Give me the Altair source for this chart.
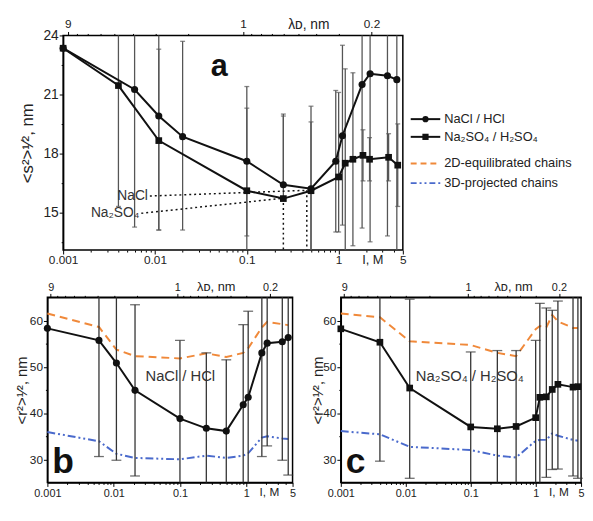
import altair as alt
import pandas as pd

FONT = "Liberation Sans"
INK = "#111111"
ERR = "#555555"
ERR_BC = "#333333"
ORANGE = "#f0893a"
BLUE = "#4a6acc"

# ---------------- panel a : <s^2>^1/2 ----------------
a_nacl_I = [0.001, 0.006, 0.011, 0.02, 0.1, 0.25, 0.5, 0.93, 1.1, 1.8, 2.2, 3.4, 4.3]
a_nacl_s = [23.35, 21.25, 19.9, 18.85, 17.6, 16.4, 16.2, 17.6, 18.9, 21.5, 22.05, 21.95, 21.75]
a_nacl_lo = [None, 14.25, 14.1, 14.1, 13.8, None, 11.9, 14.0, 14.35, 14.2, 13.5, 13.8, 11.9]
a_nacl_hi = [None, 28.25, 25.7, 23.7, 21.4, 20.0, 20.4, 21.2, 23.5, 28.8, 30.6, 30.1, 31.6]

a_so4_I = [0.001, 0.004, 0.011, 0.1, 0.25, 0.5, 1.0, 1.18, 1.43, 1.84, 2.17, 3.5, 4.4]
a_so4_s = [23.35, 21.45, 18.65, 16.1, 15.7, 16.1, 16.8, 17.5, 17.7, 17.9, 17.7, 17.8, 17.4]
a_so4_lo = [None, 15.3, 14.1, 11.9, None, 11.9, 14.0, 13.0, 13.3, 16.6, 16.6, 16.6, 15.3]
a_so4_hi = [None, 27.6, 23.3, 20.3, 19.9, 19.6, 21.1, 22.3, 22.1, 19.2, 18.8, 19.0, 19.5]

a_note_text = ["NaCl", "Na₂SO₄"]
a_note_x = [0.0088, 0.0071]
a_note_y = [15.83, 14.95]
a_note_minI = [0.45, 0.25]
a_note_minS = [16.12, 15.72]

# ---------------- panel b : NaCl / HCl ----------------
b_I = [0.001, 0.006, 0.011, 0.021, 0.1, 0.25, 0.5, 0.9, 1.07, 1.72, 2.07, 3.5, 4.3]
b_r = [58.3, 55.7, 50.8, 44.9, 38.8, 36.7, 36.1, 41.8, 43.4, 53.0, 55.1, 55.4, 56.3]
b_lo = [None, 30.6, 29.8, 26.4, 21.9, 20.4, 20.7, 24.5, 24.8, 30.6, 32.9, 29.8, 26.6]
b_hi = [None, 80.8, 71.8, 63.4, 55.7, 53.0, 51.5, 59.1, 62.0, 75.4, 77.3, 81.0, 86.0]
b_2d = [61.5, 58.6, 53.7, 52.3, 51.8, 52.9, 52.1, 53.0, 54.0, 58.5, 59.7, 59.2, 59.0]
b_3d = [35.9, 33.9, 31.2, 30.3, 30.0, 30.8, 30.3, 30.8, 31.3, 34.7, 35.0, 34.5, 34.4]

# ---------------- panel c : Na2SO4 / H2SO4 ----------------
c_I = [0.001, 0.004, 0.0115, 0.1, 0.257, 0.5, 1.0, 1.16, 1.46, 1.8, 2.2, 3.76, 4.47]
c_r = [58.2, 55.3, 45.4, 37.0, 36.6, 37.1, 39.0, 43.4, 43.5, 45.1, 46.2, 45.6, 45.7]
c_lo = [None, 29.6, 25.9, 20.8, 19.7, 20.7, 22.3, 23.1, 26.1, 27.8, 27.9, 26.4, 25.9]
c_hi = [None, 81.0, 64.6, 53.2, 53.5, 53.5, 55.7, 63.7, 62.7, 62.2, 64.2, 65.5, 65.5]
c_2d = [61.5, 60.7, 55.5, 54.7, 53.0, 52.3, 58.1, 58.8, 58.5, 61.2, 59.8, 58.4, 58.4]
c_3d = [36.1, 35.4, 32.7, 32.0, 30.8, 30.4, 34.0, 34.2, 34.2, 35.6, 35.1, 34.2, 34.0]

legend_labels = ["NaCl / HCl", "Na₂SO₄ / H₂SO₄", "2D-equilibrated chains", "3D-projected chains"]

# ---------------- axes ----------------
I_DOMAIN = [0.001, 5]
A_YDOM = [13.08, 24]
BC_YDOM = [25, 65]
X_MAJOR = [0.001, 0.01, 0.1, 1, 5]
X_MINOR = [0.002, 0.003, 0.004, 0.005, 0.006, 0.007, 0.008, 0.009,
           0.02, 0.03, 0.04, 0.05, 0.06, 0.07, 0.08, 0.09,
           0.2, 0.3, 0.4, 0.5, 0.6, 0.7, 0.8, 0.9, 2, 3, 4]
L_MAJOR = [9, 1, 0.2]
L_MINOR = [8, 7, 6, 5, 4, 3, 2, 0.9, 0.8, 0.7, 0.6, 0.5, 0.4, 0.3]
LAMBDA_K = 0.302  # Debye length (nm) = K / sqrt(I)

A_SHIFT = 16  # panel a's frame starts this many px right of the shared column origin

A_W, A_H = 345, 218
B_W, B_H = 249, 188
C_W, C_H = 244, 188


def make_panel(width, height, ydom, yvals, ylabel_test, ytitle, ysize, ytitle_x, ytitle_size,
               series, curves, texts, extra, xsize, xtitle_x, lam_title_x, cap, errc, shift=0):
    decades = 3.69897
    lo_I = 10 ** (-3 - decades * shift / (width - shift)) if shift else I_DOMAIN[0]
    xdom = [lo_I, I_DOMAIN[1]]
    lamdom = [LAMBDA_K / xdom[1] ** 0.5, LAMBDA_K / xdom[0] ** 0.5]
    framed = shift == 0
    xs = alt.Scale(type="log", domain=xdom, nice=False)
    ys = alt.Scale(domain=ydom, nice=False, zero=False)
    xax = alt.Axis(
        values=X_MAJOR + X_MINOR, format="~g", domain=framed,
        labelExpr="indexof(['0.001','0.01','0.1','1','5'], datum.label) >= 0 ? datum.label : ''",
        tickSize={"condition": {"test": "indexof([0.001, 0.01, 0.1, 1, 5], datum.value) >= 0", "value": 4}, "value": 2},
        labelFontSize=xsize, labelOverlap=False, labelFlush=False, labelPadding=1,
        title="I, M", titleX=xtitle_x + shift, titleY=4, titleBaseline="top", titleAlign="center",
        titleAngle=0, titleFontSize=xsize + 1)
    yax = alt.Axis(values=yvals, labelExpr=f"({ylabel_test}) ? datum.label : ''", offset=-shift,
                   tickSize={"condition": {"test": ylabel_test, "value": 4}, "value": 2},
                   labelFontSize=ysize, labelPadding=1, title=ytitle, titleFontSize=ytitle_size,
                   titleX=ytitle_x, titleY=height / 2, titleAlign="center", titleBaseline="middle",
                   titleAngle=270)

    def X(f):
        return alt.X(f + ":Q", scale=xs, axis=xax)

    def Y(f):
        return alt.Y(f + ":Q", scale=ys, axis=yax)

    layers = []
    if not framed:
        fr = pd.DataFrame({"x": [I_DOMAIN[0]], "x2": [I_DOMAIN[1]], "y": [ydom[0]], "y2": [ydom[1]]})
        layers.append(alt.Chart(fr).mark_rect(filled=False, stroke="black", strokeWidth=1.5)
                      .encode(x=X("x"), x2="x2:Q", y=Y("y"), y2="y2:Q"))
    for I, vals, color, dash in curves:
        df = pd.DataFrame({"I": I, "v": vals})
        layers.append(alt.Chart(df).mark_line(color=color, strokeWidth=2, strokeDash=dash)
                      .encode(x=X("I"), y=Y("v")))
    for I, vals, lo, hi, shape in series:
        rows = []
        for i, v, l, h in zip(I, vals, lo, hi):
            if h is None:
                continue
            rows.append({"I": i, "lo": v if l is None else l, "hi": h, "locap": l})
        df = pd.DataFrame(rows)
        base = alt.Chart(df).transform_calculate(
            loc=f"max(datum.lo, {ydom[0]})", hic=f"min(datum.hi, {ydom[1]})")
        layers.append(base.mark_rule(color=errc, strokeWidth=1.3)
                      .encode(x=X("I"), y=Y("loc"), y2="hic:Q"))
        layers.append(base.transform_filter(f"datum.hi <= {ydom[1]}")
                      .mark_tick(orient="horizontal", size=cap, thickness=1.3, color=errc)
                      .encode(x=X("I"), y=Y("hi")))
        layers.append(base.transform_filter(f"isValid(datum.locap) && datum.locap >= {ydom[0]}")
                      .mark_tick(orient="horizontal", size=cap, thickness=1.3, color=errc)
                      .encode(x=X("I"), y=Y("locap")))
    layers += [e(X, Y) for e in extra]
    for I, vals, lo, hi, shape in series:
        df = pd.DataFrame({"I": I, "v": vals})
        layers.append(alt.Chart(df).mark_line(color=INK, strokeWidth=2)
                      .encode(x=X("I"), y=Y("v")))
        layers.append(alt.Chart(df).mark_point(filled=True, shape=shape, size=52 if shape == "circle" else 46,
                                               color=INK, opacity=1)
                      .encode(x=X("I"), y=Y("v")))
    layers += texts

    top = alt.Chart(pd.DataFrame({"lam": lamdom})).mark_point(opacity=0, size=1).encode(
        x=alt.X("lam:Q", scale=alt.Scale(type="log", domain=lamdom, reverse=True, nice=False),
                axis=alt.Axis(orient="top", values=L_MAJOR + L_MINOR, format="~g", domain=framed,
                              labelExpr="(datum.value == 9 || datum.value == 1 || datum.value == 0.2) ? datum.label : ''",
                              tickSize={"condition": {"test": "datum.value == 9 || datum.value == 1 || datum.value == 0.2",
                                                      "value": 4}, "value": 2},
                              labelFontSize=xsize, labelOverlap=False, labelFlush=False, labelPadding=1,
                              title="λᴅ, nm", titleX=lam_title_x + shift, titleY=-4, titleBaseline="bottom",
                              titleAlign="center", titleAngle=0, titleFontSize=xsize + 2)),
        y=alt.value(0))
    props = dict(width=width, height=height)
    if not framed:
        props["view"] = alt.ViewBackground(stroke="transparent")
    return alt.layer(alt.layer(*layers), top).resolve_scale(x="independent").properties(**props)


def txt(s, x, y, size, weight="normal", align="left", baseline="alphabetic", color=INK):
    return alt.Chart(pd.DataFrame({"t": [s]})).mark_text(
        align=align, baseline=baseline, fontSize=size, fontWeight=weight, font=FONT, color=color
    ).encode(text="t:N", x=alt.value(x), y=alt.value(y))


def a_pointers(X, Y):
    df = pd.DataFrame({"x": a_note_x, "y": a_note_y, "x2": a_note_minI, "y2": a_note_minS})
    return alt.Chart(df).mark_rule(color=INK, strokeWidth=1.5, strokeDash=[2, 3]).encode(
        x=X("x"), y=Y("y"), x2="x2:Q", y2="y2:Q")


def a_drops(X, Y):
    df = pd.DataFrame({"x": a_note_minI, "y": a_note_minS, "y2": [A_YDOM[0], A_YDOM[0]]})
    return alt.Chart(df).mark_rule(color=INK, strokeWidth=1.5, strokeDash=[2, 3]).encode(
        x=X("x"), y=Y("y"), y2="y2:Q")


def a_labels(X, Y):
    df = pd.DataFrame({"x": a_note_x, "y": a_note_y, "t": a_note_text})
    return alt.Chart(df).mark_text(align="right", baseline="middle", dx=-2, fontSize=14, font=FONT,
                                   color="#333333").encode(x=X("x"), y=Y("y"), text="t:N")


def legend_rows(shift):
    rows_y = [85, 103, 130, 150]
    items = []
    styles = [(INK, None, "circle"), (INK, None, "square"), (ORANGE, [6, 4], None), (BLUE, [6, 3, 2, 3, 2, 3], None)]
    for (color, dash, shape), lab, ry in zip(styles, legend_labels, rows_y):
        one = pd.DataFrame({"k": [0]})
        kw = {"color": color, "strokeWidth": 2}
        if dash:
            kw["strokeDash"] = dash
        items.append(alt.Chart(one).mark_rule(**kw).encode(
            x=alt.value(353 + shift), x2=alt.value(383 + shift), y=alt.value(ry)))
        if shape:
            items.append(alt.Chart(one).mark_point(filled=True, shape=shape, size=40, color=INK, opacity=1)
                         .encode(x=alt.value(368 + shift), y=alt.value(ry)))
        items.append(txt(lab, 387 + shift, ry, 13, baseline="middle", color="#222222"))
    return items


panel_a = make_panel(
    A_W + A_SHIFT, A_H, A_YDOM, [15, 18, 21, 24, 13.5, 16.5, 19.5, 22.5], "datum.value % 3 == 0",
    "<s²>¹⁄², nm", 14, -36, 17,
    series=[(a_nacl_I, a_nacl_s, a_nacl_lo, a_nacl_hi, "circle"),
            (a_so4_I, a_so4_s, a_so4_lo, a_so4_hi, "square")],
    curves=[],
    texts=[txt("a", 150 + A_SHIFT, 41, 31, weight="bold")] + legend_rows(A_SHIFT),
    extra=[a_pointers, a_drops, a_labels],
    xsize=12, xtitle_x=314, lam_title_x=249, cap=5, errc=ERR, shift=A_SHIFT)

panel_b = make_panel(
    B_W, B_H, BC_YDOM, [30, 40, 50, 60, 35, 45, 55], "datum.value % 10 == 0",
    "<r²>¹⁄², nm", 12, -26.5, 15,
    series=[(b_I, b_r, b_lo, b_hi, "circle")],
    curves=[(b_I, b_2d, ORANGE, [8, 5]), (b_I, b_3d, BLUE, [8, 3, 2, 3, 2, 3])],
    texts=[txt("b", 5, B_H - 10, 36, weight="bold"),
           txt("NaCl / HCl", 135, 80, 15, align="center", baseline="middle", color="#333333")],
    extra=[], xsize=11, xtitle_x=225, lam_title_x=171, cap=10, errc=ERR_BC)

panel_c = make_panel(
    C_W, C_H, BC_YDOM, [30, 40, 50, 60, 35, 45, 55], "datum.value % 10 == 0",
    "<r²>¹⁄², nm", 12, -24, 15,
    series=[(c_I, c_r, c_lo, c_hi, "square")],
    curves=[(c_I, c_2d, ORANGE, [8, 5]), (c_I, c_3d, BLUE, [8, 3, 2, 3, 2, 3])],
    texts=[txt("c", 5, C_H - 10, 36, weight="bold"),
           txt("Na₂SO₄ / H₂SO₄", 131, 80, 15, align="center", baseline="middle", color="#333333")],
    extra=[], xsize=11, xtitle_x=221, lam_title_x=175, cap=10, errc=ERR_BC)

chart = alt.vconcat(panel_a, alt.hconcat(panel_b, panel_c, spacing=13), spacing=12).properties(
    padding={"left": 5, "top": 5, "right": 0, "bottom": 0}, background="white"
).configure(font=FONT).configure_axis(
    labelFont=FONT, titleFont=FONT, labelColor="#222222", titleColor="#222222", grid=False,
    domainColor="black", domainWidth=1.5, tickColor="black", tickWidth=1, titleFontWeight="normal"
).configure_view(stroke="black", strokeWidth=1.5)

chart.save("out.html", embed_options={"renderer": "svg", "actions": False})
